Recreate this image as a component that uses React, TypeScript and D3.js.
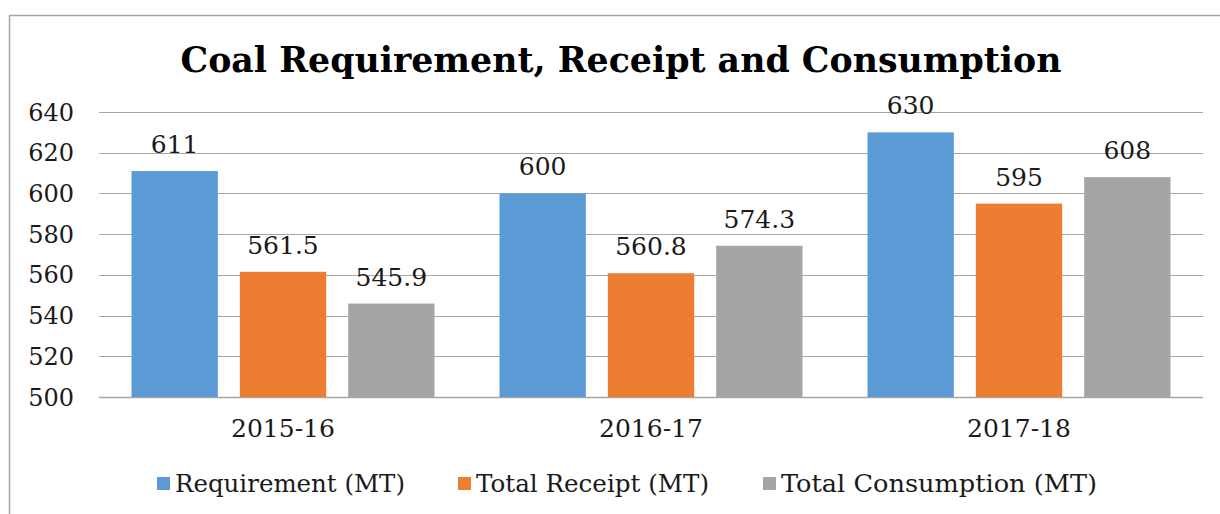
import { useRef, useEffect } from 'react';
import * as d3 from 'd3';

const categories = ['2015-16', '2016-17', '2017-18'];
const seriesNames = ['Requirement (MT)', 'Total Receipt (MT)', 'Total Consumption (MT)'];
const requirement = [611, 600, 630];
const receipt = [561.5, 560.8, 595];
const consumption = [545.9, 574.3, 608];
const yTicks = [500, 520, 540, 560, 580, 600, 620, 640];
const colors = ['#5B9BD5', '#ED7D31', '#A5A5A5'];

export default function App() {
  const svgRef = useRef<SVGSVGElement>(null);
  const width = 1220;
  const height = 514;

  useEffect(() => {
    document.body.style.margin = '0';
    if (!svgRef.current) return;
    const svg = d3.select(svgRef.current);
    svg.selectAll('*').remove();

    const font = '"DejaVu Serif", serif';
    const series = [requirement, receipt, consumption];

    // Outer chart border
    svg.append('rect')
      .attr('x', 9.5)
      .attr('y', 15.5)
      .attr('width', 1230)
      .attr('height', 520)
      .attr('fill', 'white')
      .attr('stroke', '#a6a6a6')
      .attr('stroke-width', 1.5);

    const plot = { left: 99, right: 1203, top: 112, bottom: 397 };

    const x0 = d3.scaleBand<string>()
      .domain(categories)
      .range([plot.left, plot.right]);

    const x1 = d3.scaleBand<number>()
      .domain(d3.range(series.length))
      .range([0, x0.bandwidth()])
      .paddingInner(0.203)
      .paddingOuter(0.3);

    const y = d3.scaleLinear()
      .domain([500, 640])
      .range([plot.bottom, plot.top]);

    // Gridlines
    svg.append('g')
      .selectAll('line')
      .data(yTicks)
      .join('line')
      .attr('x1', plot.left)
      .attr('x2', plot.right)
      .attr('y1', d => Math.round(y(d)) + 0.5)
      .attr('y2', d => Math.round(y(d)) + 0.5)
      .attr('stroke', '#a6a6a6')
      .attr('stroke-width', d => (d === 500 ? 1.5 : 1));

    // Y tick labels
    svg.append('g')
      .selectAll('text')
      .data(yTicks)
      .join('text')
      .attr('x', 74)
      .attr('y', d => y(d))
      .attr('dy', '0.36em')
      .attr('text-anchor', 'end')
      .attr('font-family', font)
      .attr('font-size', 24)
      .attr('fill', '#1a1a1a')
      .text(d => d);

    // Bars + labels
    categories.forEach((cat, ci) => {
      const g = svg.append('g').attr('transform', `translate(${x0(cat)},0)`);
      series.forEach((vals, si) => {
        const v = vals[ci];
        g.append('rect')
          .attr('x', x1(si)!)
          .attr('y', y(v))
          .attr('width', x1.bandwidth())
          .attr('height', plot.bottom - y(v))
          .attr('fill', colors[si]);
        g.append('text')
          .attr('x', x1(si)! + x1.bandwidth() / 2)
          .attr('y', y(v) - 18)
          .attr('text-anchor', 'middle')
          .attr('font-family', font)
          .attr('font-size', 25)
          .attr('fill', '#1a1a1a')
          .text(v);
      });
    });

    // Category labels
    svg.append('g')
      .selectAll('text')
      .data(categories)
      .join('text')
      .attr('x', d => x0(d)! + x0.bandwidth() / 2)
      .attr('y', 437)
      .attr('text-anchor', 'middle')
      .attr('font-family', font)
      .attr('font-size', 25)
      .attr('fill', '#1a1a1a')
      .text(d => d);

    // Title
    svg.append('text')
      .attr('x', 621)
      .attr('y', 72)
      .attr('text-anchor', 'middle')
      .attr('font-family', font)
      .attr('font-weight', 'bold')
      .attr('font-size', 36)
      .attr('textLength', 881)
      .attr('lengthAdjust', 'spacingAndGlyphs')
      .attr('fill', '#000')
      .text('Coal Requirement, Receipt and Consumption');

    // Legend
    const legendX = [157, 458, 763];
    const legendW = [230, 233, 316];
    seriesNames.forEach((name, i) => {
      svg.append('rect')
        .attr('x', legendX[i])
        .attr('y', 477)
        .attr('width', 13)
        .attr('height', 13)
        .attr('fill', colors[i]);
      svg.append('text')
        .attr('x', legendX[i] + 18)
        .attr('y', 492)
        .attr('font-family', font)
        .attr('font-size', 24)
        .attr('textLength', legendW[i])
        .attr('lengthAdjust', 'spacingAndGlyphs')
        .attr('fill', '#1a1a1a')
        .text(name);
    });
  }, []);

  return <svg ref={svgRef} width={width} height={height} style={{ display: 'block' }} />;
}
